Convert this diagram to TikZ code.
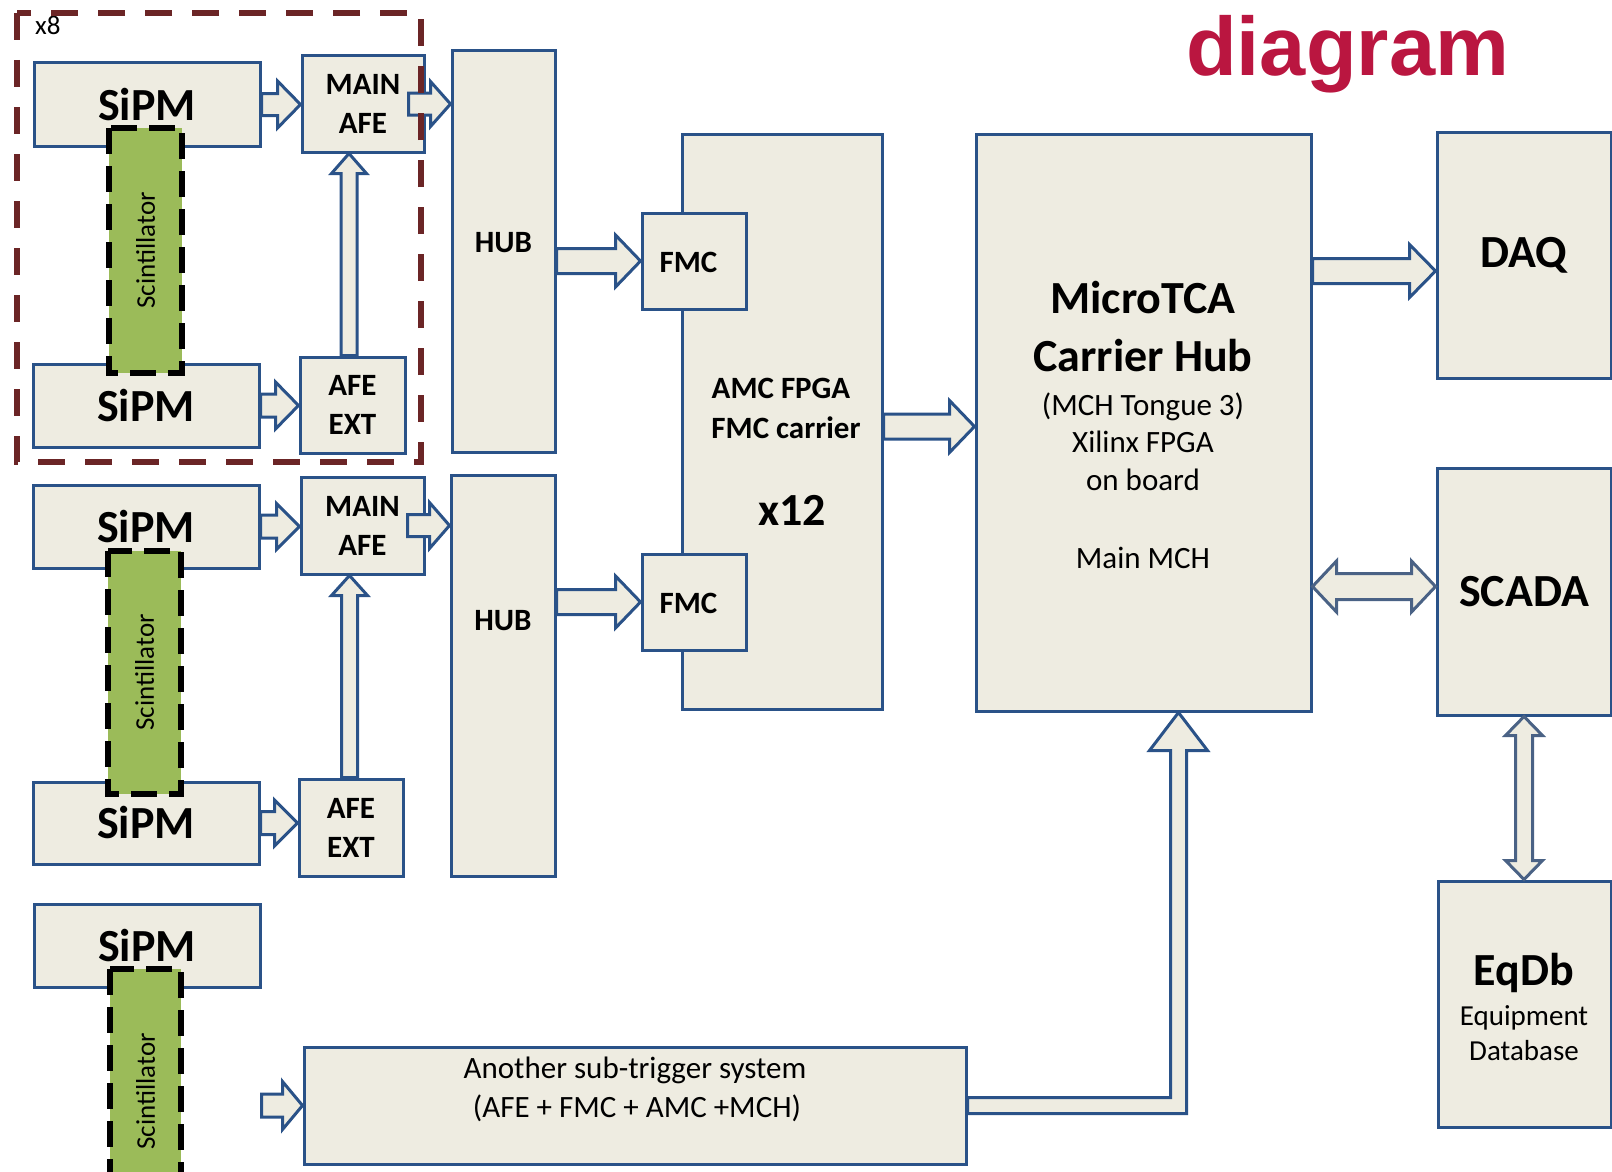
\documentclass[tikz,border=0pt]{standalone}
\usepackage{fontspec}
\setmainfont{Carlito}
\newfontfamily\titlefont{Liberation Sans}
\usetikzlibrary{calc}
\definecolor{boxc}{HTML}{2A5288}
\definecolor{arrc}{HTML}{4A6285}
\definecolor{boxbg}{HTML}{EEECE1}
\definecolor{scintc}{HTML}{9BBB59}
\definecolor{framec}{HTML}{6B2526}
\definecolor{titlec}{HTML}{BA1640}
\newcommand{\bigb}{\fontsize{46}{55}\selectfont\bfseries}
\newcommand{\midb}{\fontsize{31}{39}\selectfont\bfseries}
\newcommand{\midr}{\fontsize{31}{38}\selectfont}
\newcommand{\smr}{\fontsize{27}{32}\selectfont}
\tikzset{
  box/.style={draw=boxc,line width=3pt,fill=boxbg,inner sep=0pt,align=center},
  sz/.style 2 args={minimum width=#1pt,minimum height=#2pt},
  blk/.style={draw=boxc,line width=3pt,fill=boxbg},
  blkg/.style={blk,draw=arrc},
  scint/.style={draw=black,line width=5.5pt,dash pattern=on 26pt off 12pt,fill=scintc,inner sep=0pt,rotate=90,font=\smr},
  frame/.style={draw=framec,line width=6pt,dash pattern=on 27pt off 20pt},
  txt/.style={anchor=base,inner sep=0pt}
}
% block arrows: start, tip, half shaft, half head, head length
\newcommand{\rarr}[6][blk]{\draw[#1] let \p1=(#2), \p2=(#3) in
  (\x1,\y1+#4) -- (\x2-#6,\y1+#4) -- (\x2-#6,\y1+#5) -- (\x2,\y1)
  -- (\x2-#6,\y1-#5) -- (\x2-#6,\y1-#4) -- (\x1,\y1-#4) -- cycle;}
\newcommand{\uarr}[6][blk]{\draw[#1] let \p1=(#2), \p2=(#3) in
  (\x1-#4,\y1) -- (\x1-#4,\y2-#6) -- (\x1-#5,\y2-#6) -- (\x1,\y2)
  -- (\x1+#5,\y2-#6) -- (\x1+#4,\y2-#6) -- (\x1+#4,\y1) -- cycle;}
\newcommand{\lrarr}[6][blkg]{\draw[#1] let \p1=(#2), \p2=(#3) in
  (\x1,\y1) -- (\x1+#6,\y1+#5) -- (\x1+#6,\y1+#4) -- (\x2-#6,\y1+#4) -- (\x2-#6,\y1+#5)
  -- (\x2,\y1) -- (\x2-#6,\y1-#5) -- (\x2-#6,\y1-#4) -- (\x1+#6,\y1-#4) -- (\x1+#6,\y1-#5) -- cycle;}
\newcommand{\udarr}[6][blkg]{\draw[#1] let \p1=(#2), \p2=(#3) in
  (\x1,\y1) -- (\x1+#5,\y1-#6) -- (\x1+#4,\y1-#6) -- (\x1+#4,\y2+#6) -- (\x1+#5,\y2+#6)
  -- (\x1,\y2) -- (\x1-#5,\y2+#6) -- (\x1-#4,\y2+#6) -- (\x1-#4,\y1-#6) -- (\x1-#5,\y1-#6) -- cycle;}

\begin{document}
\begin{tikzpicture}[x=1pt,y=-1pt]
\useasboundingbox (0,0) rectangle (1612,1172);
\node[txt,text=titlec,font=\titlefont\fontsize{83}{90}\selectfont\bfseries] (title) at (1347.5,75) {diagram};
\node[box,sz={103}{401}] (hubA) at (503.5,251.5) {};
\node[box,sz={104}{401}] (hubB) at (503,675.5) {};
\node[box,sz={200}{575}] (amc) at (782,421.5) {};
\node[box,sz={104}{96}] (fmcA) at (694,261) {};
\node[box,sz={104}{96}] (fmcB) at (694,602) {};
\node[box,sz={335}{577}] (mch) at (1143.5,422.5) {};
\node[box,sz={174}{246},font=\bigb] (daq) at (1524,255) {DAQ};
\node[box,sz={174}{247},font=\bigb] (scada) at (1524,591.5) {SCADA};
\node[box,sz={173}{246}] (eqdb) at (1524.5,1004) {};
\node[box,sz={662}{117}] (another) at (635,1105.5) {};
\node[box,sz={226}{83},font=\bigb] (sipmA) at (147,104.5) {SiPM};
\node[box,sz={226}{83},font=\bigb] (sipmB) at (146,405.5) {SiPM};
\node[box,sz={226}{83},font=\bigb] (sipmC) at (146,526.5) {SiPM};
\node[box,sz={226}{82},font=\bigb] (sipmD) at (146,823) {SiPM};
\node[box,sz={226}{83},font=\bigb] (sipmE) at (147,945.5) {SiPM};
\node[box,sz={122}{96},font=\midb] (afeA) at (363,104) {MAIN\\AFE};
\node[box,sz={123}{97},font=\midb] (afeB) at (362.5,525.5) {MAIN\\AFE};
\node[box,sz={105}{96},font=\midb] (extA) at (352.5,405) {AFE\\EXT};
\node[box,sz={104}{97},font=\midb] (extB) at (351,827.5) {AFE\\EXT};
\node[scint,sz={245}{73}] (scA) at (145.5,250.5) {Scintillator};
\node[scint,sz={243}{73}] (scB) at (144.5,672.5) {Scintillator};
\node[scint,sz={245}{71}] (scC) at (145.5,1091.5) {Scintillator};
\node[font=\midb,inner sep=0pt] (fmcAt) at (688.5,262) {FMC};
\node[font=\midb,inner sep=0pt] (fmcBt) at (688.5,603) {FMC};
\node[font=\midb,inner sep=0pt] (hubAt) at (503.5,243) {HUB};
\node[font=\midb,inner sep=0pt] (hubBt) at (503,621) {HUB};
\node[txt,font=\midb] (amcT1) at (781,398) {AMC FPGA};
\node[txt,font=\midb] (amcT2) at (786,438) {FMC carrier};
\node[txt,font=\bigb] (amcT3) at (792,525) {x12};
\node[txt,font=\bigb] (mchT1) at (1143,313) {MicroTCA};
\node[txt,font=\bigb] (mchT2) at (1143,371) {Carrier Hub};
\node[txt,font=\midr] (mchT3) at (1143,415) {(MCH Tongue 3)};
\node[txt,font=\midr] (mchT4) at (1143,452) {Xilinx FPGA};
\node[txt,font=\midr] (mchT5) at (1143,490) {on board};
\node[txt,font=\midr] (mchT6) at (1143,568) {Main MCH};
\node[txt,font=\bigb] (eqT1) at (1524,985) {EqDb};
\node[txt,font=\fontsize{29}{35}\selectfont] (eqT2) at (1524,1025) {Equipment};
\node[txt,font=\fontsize{29}{35}\selectfont] (eqT3) at (1524,1060) {Database};
\node[txt,font=\midr] (anT1) at (635,1078) {Another sub-trigger system};
\node[txt,font=\midr] (anT2) at (637,1117) {(AFE + FMC + AMC +MCH)};
\node[txt,anchor=base west,font=\smr] (x8) at (35,35) {x8};
\coordinate (extAout) at ([xshift=-3.5pt]extA.north);
\coordinate (extBout) at ([xshift=-1.5pt]extB.north);
\coordinate (amcout) at ([yshift=-5pt]amc.east);
\coordinate (daqin) at ([yshift=-16pt]daq.west);
\coordinate (scadain) at ([yshift=5pt]scada.west);
\coordinate (anin) at (sipmE.east |- another.west);
\coordinate (mchin) at ([xshift=35pt]mch.south);
\rarr{sipmA.east}{sipmA.east -| afeA.west}{11}{23.5}{23}
\rarr{sipmB.east}{sipmB.east -| extA.west}{11.5}{23.5}{23}
\rarr{sipmC.east}{sipmC.east -| afeB.west}{11.5}{23}{23}
\rarr{sipmD.east}{sipmD.east -| extB.west}{11.5}{23}{23}
\uarr{extAout}{afeA.south}{8}{17.5}{20}
\uarr{extBout}{afeB.south}{8}{18}{20}
\rarr{[xshift=-17pt]afeA.east}{afeA.east -| hubA.west}{11}{22.5}{20}
\rarr{[xshift=-18pt]afeB.east}{afeB.east -| hubB.west}{11}{23}{20}
\rarr{hubA.east |- fmcA.west}{fmcA.west}{12.5}{26}{25}
\rarr{hubB.east |- fmcB.west}{fmcB.west}{12.5}{26}{25}
\rarr{amcout}{amcout -| mch.west}{12.5}{26}{25}
\rarr{daqin -| mch.east}{daqin}{12.5}{26.5}{26}
\lrarr{scadain -| mch.east}{scadain}{13}{25.5}{24}
\udarr{scada.south}{eqdb.north}{8.5}{18.5}{19}
\rarr{anin}{another.west}{11.5}{24}{20}
\draw[blk] let \p1=(another.east), \p2=(mchin) in
  (\x1,\y1+8) -- (\x2-8,\y1+8) -- (\x2-8,\y2-38) -- (\x2-29,\y2-38) -- (\x2,\y2)
  -- (\x2+29,\y2-38) -- (\x2+8,\y2-38) -- (\x2+8,\y1-8) -- (\x1,\y1-8) -- cycle;
\draw[frame] (17,13) rectangle (421,462);
\end{tikzpicture}
\end{document}
